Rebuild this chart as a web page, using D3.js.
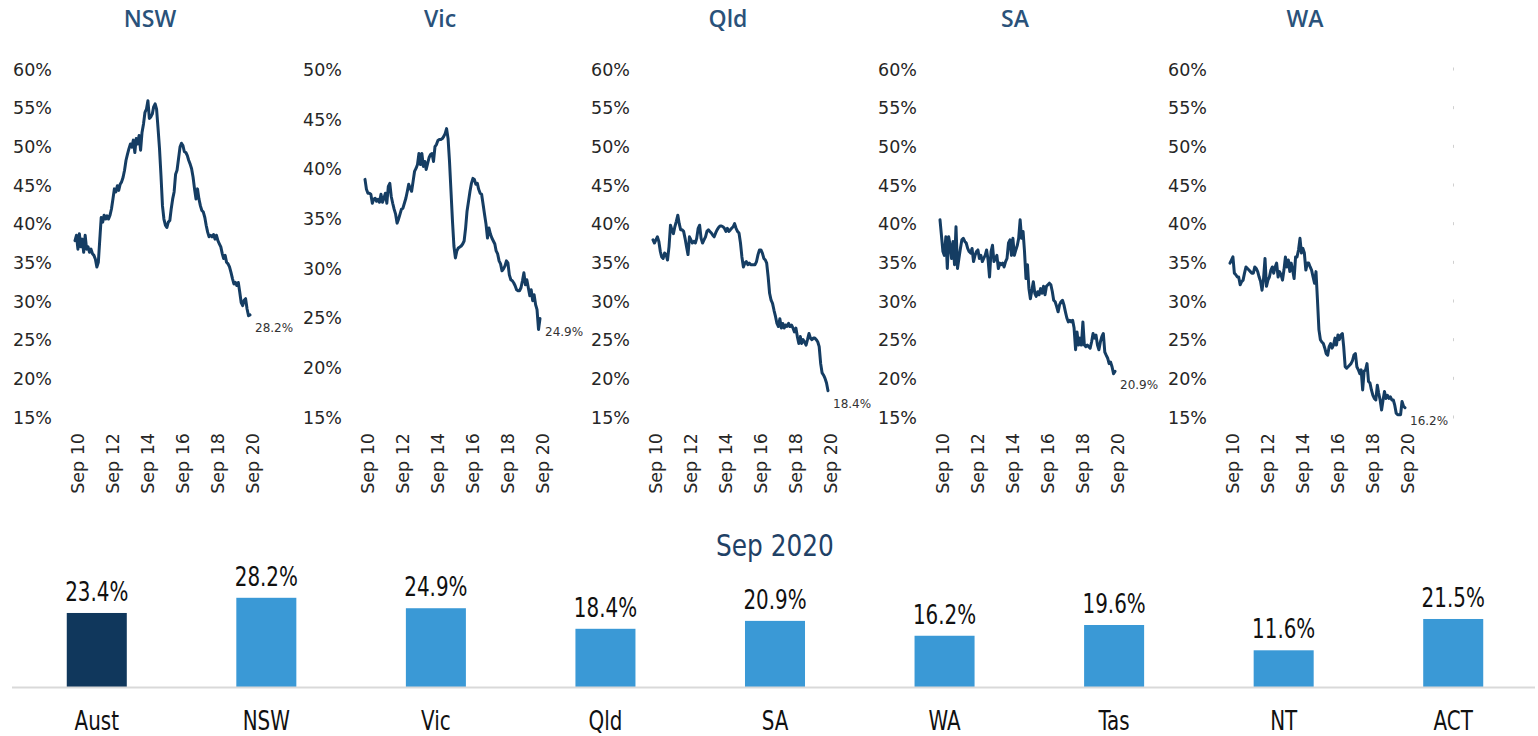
<!DOCTYPE html>
<html>
<head>
<meta charset="utf-8">
<script src="https://cdn.jsdelivr.net/npm/d3@7"></script>
<style>
  html, body { margin: 0; padding: 0; background: #ffffff; }
  svg { display: block; }
</style>
</head>
<body>
<svg id="chart" width="1538" height="736"></svg>
<script>
// ---- Data -------------------------------------------------------------
// Monthly share (%) from Sep 2010 to Sep 2020 for each state
const regions = ["NSW", "Vic", "Qld", "SA", "WA"];
const seriesStart = new Date(2010, 8, 1);

const nswShare = [
  37.8,38.5,36.7,38.7,37.0,38.0,36.3,38.5,36.7,37.0,
  36.3,36.7,36.1,35.9,35.4,34.4,35.0,38.0,40.8,40.2,
  41.1,40.6,41.0,40.6,41.1,41.9,43.2,44.5,44.1,44.9,
  44.3,45.1,45.4,46.0,46.9,48.2,49.0,49.7,50.3,49.9,
  50.8,49.2,51.0,50.3,51.4,49.5,51.8,52.9,54.4,54.8,
  55.9,53.6,53.8,54.2,55.1,55.5,54.8,52.3,49.7,46.2,
  42.3,40.6,39.8,39.5,40.2,40.4,41.9,43.2,44.1,46.4,
  46.9,48.4,49.9,50.4,50.1,49.3,49.2,48.8,48.2,47.7,
  47.1,46.0,44.5,43.2,44.5,43.2,42.3,41.7,41.5,40.8,
  39.8,38.9,38.3,38.5,38.3,38.6,38.0,38.5,37.8,37.4,
  37.0,36.1,35.5,35.9,35.0,34.8,34.4,33.7,32.9,32.2,
  32.4,32.0,32.4,31.1,29.8,29.4,30.1,30.3,29.0,28.1,28.2
];
const vicShare = [
  38.9,37.9,37.5,37.5,37.4,36.5,36.9,37.0,36.7,36.9,
  36.6,37.4,36.6,37.0,37.5,36.5,38.2,38.5,37.2,36.5,
  35.9,35.4,34.5,34.9,35.4,35.9,36.0,36.5,37.0,37.7,
  38.4,38.0,37.7,38.7,39.7,40.0,40.4,41.5,40.4,41.5,
  40.2,40.7,39.9,40.5,41.1,41.4,41.5,40.7,42.2,42.4,
  42.8,42.9,42.9,43.0,43.2,43.5,44.0,43.0,40.7,37.7,
  34.7,32.2,31.0,31.7,32.0,32.1,32.2,32.4,32.7,34.0,
  35.7,36.7,37.7,38.5,39.0,38.9,38.4,38.5,37.9,37.5,
  37.4,36.4,35.4,34.4,33.0,34.0,33.4,33.0,32.7,32.4,
  31.7,31.4,30.7,30.4,29.7,29.9,30.2,30.7,30.5,29.3,
  28.8,28.7,28.5,28.2,27.8,27.7,27.7,28.0,28.7,29.5,
  28.3,28.8,28.0,27.2,27.8,26.7,27.3,26.3,25.8,23.8,24.9
];
const qldShare = [
  37.9,37.5,37.9,38.3,37.7,36.4,35.7,35.5,36.2,36.0,
  35.3,37.0,39.8,39.2,38.7,39.6,40.3,41.1,40.0,39.2,
  39.2,39.0,38.1,37.0,36.0,38.3,37.9,37.5,37.7,37.5,
  38.1,39.4,39.8,38.1,37.5,37.9,38.3,39.0,39.2,39.0,
  38.8,38.5,38.3,38.8,39.2,39.5,39.7,39.7,39.6,39.4,
  39.0,39.4,39.0,39.2,39.4,39.6,40.0,39.4,39.0,38.8,
  37.5,35.7,34.4,34.9,35.1,34.7,34.9,34.7,34.7,34.7,
  34.7,35.1,36.0,36.6,36.6,36.2,35.5,35.3,34.9,33.1,
  31.0,30.1,29.7,28.8,28.0,27.1,26.7,27.7,26.5,27.1,
  26.5,26.9,26.7,27.1,26.7,26.9,26.5,26.0,26.5,25.4,
  24.5,25.4,24.5,25.0,24.7,24.3,25.0,25.8,25.2,25.0,
  25.2,25.2,25.0,24.7,24.1,21.9,20.7,20.4,20.0,19.4,18.4
];
const saShare = [
  40.5,38.5,36.4,35.9,38.3,34.2,38.3,37.2,35.5,37.7,
  34.7,39.6,34.2,35.5,36.8,37.9,38.1,37.7,37.5,36.8,
  36.4,36.2,36.8,35.1,35.9,36.4,36.6,35.5,35.9,35.1,
  35.5,35.9,36.6,35.3,33.1,36.4,37.2,35.1,35.5,35.9,
  34.2,34.9,34.7,34.9,34.4,35.1,35.5,37.5,37.9,35.9,
  38.1,35.9,36.6,37.2,38.1,40.5,38.1,39.0,36.4,32.9,
  34.7,31.6,30.3,31.4,32.5,31.0,30.6,31.2,30.8,31.6,
  31.0,31.9,30.8,31.9,32.1,32.3,32.1,31.2,30.1,29.9,
  29.3,28.6,29.5,29.9,30.1,29.5,28.6,27.8,27.3,27.5,
  27.3,27.5,26.5,23.7,26.0,24.3,25.2,24.3,27.3,24.3,
  24.1,24.3,24.1,23.9,24.7,25.8,25.2,25.6,24.3,23.7,
  24.7,25.4,25.8,23.4,23.0,22.6,21.9,22.1,21.5,20.6,20.9
];
const waShare = [
  34.9,35.3,35.7,33.6,33.4,33.1,33.1,32.1,32.5,32.7,
  33.6,34.4,34.2,34.0,33.8,33.6,33.6,34.4,34.2,33.8,
  33.1,32.5,31.4,32.9,35.5,31.9,32.7,33.1,34.0,34.4,
  33.6,34.4,34.9,33.1,33.8,33.4,32.7,34.0,35.7,34.4,
  35.3,33.8,34.9,34.0,32.9,35.7,35.7,36.6,38.1,36.2,
  36.8,36.2,34.0,34.9,34.9,34.4,34.0,33.1,32.3,33.8,
  30.1,26.3,25.0,24.7,24.5,23.9,23.2,23.0,24.1,24.5,
  23.9,24.3,25.2,24.3,25.6,25.0,25.6,25.8,24.1,21.5,
  21.3,21.5,21.7,21.9,22.3,23.0,23.2,21.5,21.1,20.6,
  21.1,18.5,20.9,21.1,21.9,19.6,19.4,18.5,17.8,17.4,
  17.2,19.1,18.1,17.2,15.9,17.2,18.3,17.4,17.8,17.4,
  17.6,17.2,17.2,16.5,15.5,15.3,15.3,15.3,17.0,16.4,16.2
];
const regionSeries = [nswShare, vicShare, qldShare, saShare, waShare];

// Y-axis tick labels for each small panel
const yTicks60 = [15, 20, 25, 30, 35, 40, 45, 50, 55, 60];
const yTicks50 = [15, 20, 25, 30, 35, 40, 45, 50];
const regionYTicks = [yTicks60, yTicks50, yTicks60, yTicks60, yTicks60];

// X-axis ticks: September of every second year
const xTickYears = [2010, 2012, 2014, 2016, 2018, 2020];

// Latest month, all states and territories
const barTitle = "Sep 2020";
const barCategories = ["Aust", "NSW", "Vic", "Qld", "SA", "WA", "Tas", "NT", "ACT"];
const barValues = [23.4, 28.2, 24.9, 18.4, 20.9, 16.2, 19.6, 11.6, 21.5];

// ---- Styling ----------------------------------------------------------
const lineColor = "#153d63";
const titleColor = "#2a527a";
const axisTextColor = "#262626";
const narrowFont = "'Liberation Sans Narrow', 'Arial Narrow', 'DejaVu Sans Condensed', 'DejaVu Sans', sans-serif";
const axisFont = "'DejaVu Sans', Verdana, sans-serif";
const titleFont = "'Open Sans', 'DejaVu Sans', sans-serif";
const narrowScale = 0.82;   // horizontal squeeze for the bar chart lettering

const svg = d3.select("#chart");

// ---- Small multiples ----------------------------------------------------
const panelLeft = [52, 342, 630, 917, 1207];   // right edge of y labels
const plotTop = 69, plotBottom = 417;

regions.forEach((name, i) => {
  const vals = regionSeries[i];
  const left = panelLeft[i];
  const dates = vals.map((_, k) => d3.timeMonth.offset(seriesStart, k));

  const x = d3.scaleTime()
    .domain([dates[0], dates[dates.length - 1]])
    .range([left + 23, left + 198]);
  const y = d3.scaleLinear()
    .domain([15, d3.max(regionYTicks[i])])
    .range([plotBottom, plotTop]);

  const g = svg.append("g").attr("class", "panel");

  g.append("text")
    .attr("x", left + 98)
    .attr("y", 27)
    .attr("text-anchor", "middle")
    .attr("font-family", titleFont)
    .attr("font-weight", 600)
    .attr("font-size", 23)
    .attr("fill", titleColor)
    .text(name);

  // y axis
  const ya = g.append("g")
    .attr("transform", `translate(${left},0)`)
    .call(d3.axisLeft(y)
      .tickValues(regionYTicks[i])
      .tickSize(0)
      .tickPadding(0)
      .tickFormat(d => d + "%"));
  ya.select(".domain").remove();
  ya.selectAll("text")
    .attr("font-family", axisFont)
    .attr("font-size", 17.5)
    .attr("fill", axisTextColor)
    .attr("dy", "0.36em");

  // x axis (rotated labels)
  const tickDates = xTickYears.map(yr => new Date(yr, 8, 1));
  const xa = g.append("g")
    .attr("transform", `translate(2,433)`)
    .call(d3.axisBottom(x)
      .tickValues(tickDates)
      .tickSize(0)
      .tickPadding(0)
      .tickFormat(d3.timeFormat("%b %y")));
  xa.select(".domain").remove();
  xa.selectAll("text")
    .attr("font-family", axisFont)
    .attr("font-size", 17.5)
    .attr("fill", axisTextColor)
    .attr("text-anchor", "end")
    .attr("transform", "rotate(-90)")
    .attr("x", 0)
    .attr("y", 0)
    .attr("dy", "0.36em");

  // series line
  const line = d3.line()
    .x((d, k) => x(dates[k]))
    .y(d => y(d));
  g.append("path")
    .datum(vals)
    .attr("d", line)
    .attr("fill", "none")
    .attr("stroke", lineColor)
    .attr("stroke-width", 3)
    .attr("stroke-linejoin", "round")
    .attr("stroke-linecap", "round");

  // latest value label
  const last = vals[vals.length - 1];
  g.append("text")
    .attr("x", x(dates[dates.length - 1]) + 5)
    .attr("y", y(last) + 13)
    .attr("dy", "0.35em")
    .attr("font-family", axisFont)
    .attr("font-size", 12)
    .attr("fill", "#333333")
    .text(d3.format(".1f")(last) + "%");

  // clipped tick remnants of the next panel along the right edge
  if (i === regions.length - 1) {
    g.append("g")
      .selectAll("rect")
      .data(regionYTicks[i])
      .join("rect")
      .attr("x", 1453)
      .attr("y", d => y(d) - 1.5)
      .attr("width", 1)
      .attr("height", 3)
      .attr("fill", "#d0d0d0");
  }
});

// ---- Bar chart: latest month ---------------------------------------------
const barX = d3.scaleBand()
  .domain(barCategories)
  .range([12, 1538])
  .paddingInner(0.646)
  .paddingOuter(0.323);
const barBase = 687;
const barY = d3.scaleLinear().domain([0, 30]).range([barBase, barBase - 94.9]);
const barCenter = d => barX(d) + barX.bandwidth() / 2;

const bars = svg.append("g").attr("class", "bars");

bars.append("text")
  .attr("transform", `translate(775,556) scale(0.92,1)`)
  .attr("text-anchor", "middle")
  .attr("font-family", narrowFont)
  .attr("font-size", 30)
  .attr("fill", "#1f4166")
  .text(barTitle);

bars.selectAll("rect.bar")
  .data(barCategories)
  .join("rect")
  .attr("class", "bar")
  .attr("x", d => barX(d))
  .attr("width", barX.bandwidth())
  .attr("y", (d, k) => barY(barValues[k]))
  .attr("height", (d, k) => barBase - barY(barValues[k]))
  .attr("fill", (d, k) => k === 0 ? "#10375c" : "#3a99d6");

bars.append("line")
  .attr("x1", 12).attr("x2", 1535)
  .attr("y1", barBase + 0.5).attr("y2", barBase + 0.5)
  .attr("stroke", "#d9d9d9")
  .attr("stroke-width", 2);

bars.selectAll("text.value")
  .data(barCategories)
  .join("text")
  .attr("class", "value")
  .attr("transform", (d, k) =>
    `translate(${barCenter(d)},${barY(barValues[k]) - 12}) scale(${narrowScale},1)`)
  .attr("text-anchor", "middle")
  .attr("font-family", narrowFont)
  .attr("font-size", 27)
  .attr("fill", "#111111")
  .text((d, k) => d3.format(".1f")(barValues[k]) + "%");

bars.selectAll("text.cat")
  .data(barCategories)
  .join("text")
  .attr("class", "cat")
  .attr("transform", d => `translate(${barCenter(d)},730) scale(${narrowScale},1)`)
  .attr("text-anchor", "middle")
  .attr("font-family", narrowFont)
  .attr("font-size", 27)
  .attr("fill", "#111111")
  .text(d => d);
</script>
</body>
</html>
